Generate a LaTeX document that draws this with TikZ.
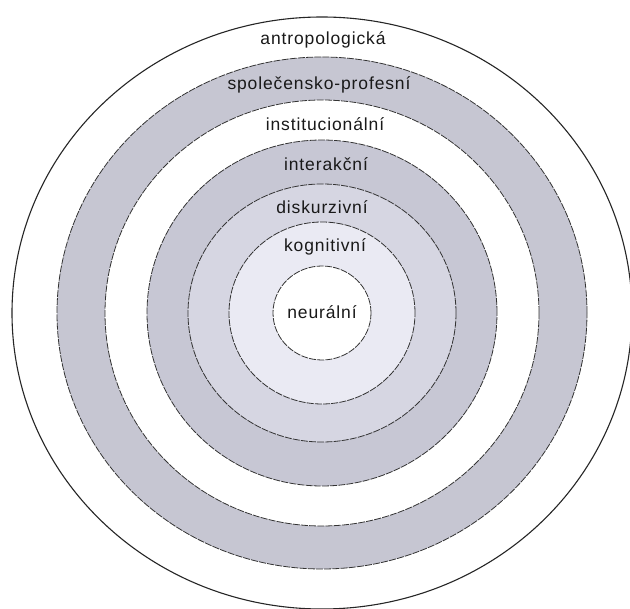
\documentclass[tikz,border=0pt]{standalone}
\usepackage{fontspec}
\newfontfamily\layerfont[LetterSpace=5]{Liberation Sans}
\begin{document}
\begin{tikzpicture}
% concentric layers, one pt per pixel of the original sketch
\def\pxsz{1pt}
\providecommand{\layerLineColor}{black!80}
\providecommand{\layerLineWidth}{0.8pt}
\providecommand{\outerLineWidth}{1.1pt}
\begin{scope}[x=\pxsz, y=-\pxsz, line cap=butt, line join=round,
  label/.style={font=\layerfont\fontsize{17.5}{19}\selectfont, text=black!90, inner sep=1pt}]
  % Page frame
  \useasboundingbox (0,0) rectangle (630,609);
  \fill[white] (0,0) rectangle (630,609);
  % Filled rings, outermost first
  \fill[white] (322,313) ellipse [x radius=310pt, y radius=296pt];
  \fill[fill={rgb,255:red,198;green,198;blue,210}] (322,313) ellipse [x radius=265pt, y radius=256pt];
  \fill[white] (322,313) ellipse [x radius=217pt, y radius=213pt];
  \fill[fill={rgb,255:red,199;green,199;blue,212}] (322,313) ellipse [x radius=175pt, y radius=173pt];
  \fill[fill={rgb,255:red,214;green,214;blue,226}] (322,313) ellipse [x radius=134pt, y radius=129pt];
  \fill[fill={rgb,255:red,234;green,234;blue,243}] (322,313) ellipse [x radius=93pt, y radius=91pt];
  \fill[white] (322,313) ellipse [x radius=49pt, y radius=47pt];
  % Outlines
  \draw[black!85, line width=\outerLineWidth] (322,313) ellipse [x radius=310pt, y radius=296pt];
  \begin{scope}[draw=\layerLineColor, line width=\layerLineWidth, dash pattern=on 7pt off 1.2pt]
    \draw (322,313) ellipse [x radius=265pt, y radius=256pt];
    \draw (322,313) ellipse [x radius=217pt, y radius=213pt];
    \draw (322,313) ellipse [x radius=175pt, y radius=173pt];
    \draw (322,313) ellipse [x radius=134pt, y radius=129pt];
    \draw (322,313) ellipse [x radius=93pt, y radius=91pt];
    \draw (322,313) ellipse [x radius=49pt, y radius=47pt];
  \end{scope}
  % Layer names
  \node[label] (antro) at (323,40) {antropologická};
  \node[label] (spol) at (319,85) {společensko-profesní};
  \node[label] (inst) at (325,124) {institucionální};
  \node[label] (inter) at (326,164) {interakční};
  \node[label] (disk) at (322,207) {diskurzivní};
  \node[label] (kogn) at (325,247) {kognitivní};
  \node[label] (neur) at (322,312) {neurální};
\end{scope}
\end{tikzpicture}
\end{document}
